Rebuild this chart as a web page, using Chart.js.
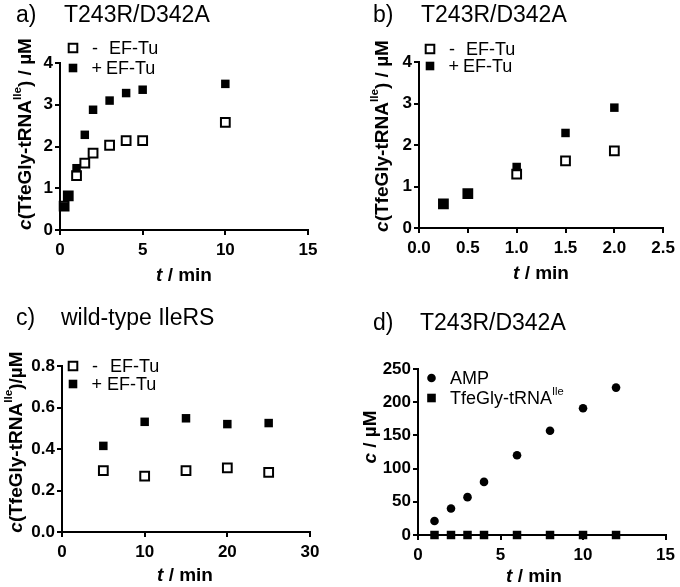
<!DOCTYPE html>
<html>
<head>
<meta charset="utf-8">
<script src="https://cdn.jsdelivr.net/npm/chart.js@4.4.1/dist/chart.umd.min.js"></script>
<style>
  html, body { margin: 0; padding: 0; background: #fff; }
  #wrap { position: relative; width: 680px; height: 587px; }
  canvas { position: absolute; }
</style>
</head>
<body>
<div id="wrap">
  <canvas id="pa" width="340" height="290" style="left:0;top:0"></canvas>
  <canvas id="pb" width="340" height="290" style="left:340px;top:0"></canvas>
  <canvas id="pc" width="340" height="297" style="left:0;top:290px"></canvas>
  <canvas id="pd" width="340" height="297" style="left:340px;top:290px"></canvas>
</div>
<script>
"use strict";
// a) T243R/D342A, full time course
const timeA = [0.25, 0.5, 1, 1.5, 2, 3, 4, 5, 10];
const mutNoTuA = [0.57, 0.82, 1.30, 1.60, 1.84, 2.03, 2.14, 2.14, 2.58];
const mutTuA = [0.56, 0.82, 1.48, 2.28, 2.88, 3.10, 3.28, 3.36, 3.50];

// b) T243R/D342A, first 2 min
const timeB = [0.25, 0.5, 1, 1.5, 2];
const mutNoTuB = [0.58, 0.83, 1.30, 1.62, 1.86];
const mutTuB = [0.58, 0.83, 1.47, 2.29, 2.90];

// c) wild-type IleRS
const timeC = [5, 10, 15, 20, 25];
const wtNoTu = [0.296, 0.269, 0.296, 0.309, 0.287];
const wtTu = [0.415, 0.531, 0.548, 0.52, 0.525];

// d) AMP vs TfeGly-tRNA
const timeD = [1, 2, 3, 4, 6, 8, 10, 12];
const ampD = [21, 40, 57, 80, 120, 157, 191, 222];
const tfeD = [0, 0, 0, 0, 0, 0, 0, 0];

const FONT = '"Liberation Sans", Arial, Helvetica, sans-serif';

function pts(xs, ys) {
    return xs.map((x, i) => ({ x: x, y: ys[i] }));
}

const openSq = { pointStyle: "rect", pointRadius: 6.2, pointBackgroundColor: "#fff", pointBorderColor: "#000", pointBorderWidth: 2, order: 1 };
const fillSq = { pointStyle: "rect", pointRadius: 6, pointBackgroundColor: "#000", pointBorderColor: "#000", pointBorderWidth: 0, order: 0 };
const fillDot = { pointStyle: "circle", pointRadius: 4.3, pointBackgroundColor: "#000", pointBorderColor: "#000", pointBorderWidth: 0, order: 0 };

function setFont(ctx, size, style) {
    const bold = style.indexOf("b") >= 0 ? "bold " : "";
    const ital = style.indexOf("i") >= 0 ? "italic " : "";
    ctx.font = ital + bold + size + "px " + FONT;
}

// runs: [text, style] ; style may contain b (bold), i (italic), s (superscript)
function runWidth(ctx, runs, size) {
    let w = 0;
    runs.forEach(r => {
        setFont(ctx, r[1].indexOf("s") >= 0 ? size * 0.62 : size, r[1]);
        w += ctx.measureText(r[0]).width;
    });
    return w;
}

function drawRuns(ctx, runs, x, y, size) {
    let cx = x;
    runs.forEach(r => {
        const sup = r[1].indexOf("s") >= 0;
        setFont(ctx, sup ? size * 0.62 : size, r[1]);
        ctx.fillText(r[0], cx, sup ? y - size * 0.42 : y);
        cx += ctx.measureText(r[0]).width;
    });
}

function marker(ctx, kind, x, y) {
    ctx.beginPath();
    if (kind === "open") {
        ctx.rect(x - 4.3, y - 4.3, 8.6, 8.6);
        ctx.fillStyle = "#fff";
        ctx.fill();
        ctx.lineWidth = 2;
        ctx.strokeStyle = "#000";
        ctx.stroke();
    } else if (kind === "fill") {
        ctx.rect(x - 4.3, y - 4.3, 8.6, 8.6);
        ctx.fillStyle = "#000";
        ctx.fill();
    } else {
        ctx.arc(x, y, 4.3, 0, Math.PI * 2);
        ctx.fillStyle = "#000";
        ctx.fill();
    }
    ctx.fillStyle = "#000";
}

const decor = {
    id: "decor",
    afterDraw(chart, args, o) {
        const ctx = chart.ctx;
        ctx.save();
        ctx.fillStyle = "#000";
        ctx.textAlign = "left";
        ctx.textBaseline = "alphabetic";
        // panel heading
        setFont(ctx, 23, "");
        ctx.fillText(o.letter, o.letterX, o.headY);
        ctx.fillText(o.head, o.headX, o.headY);
        // legend
        ctx.textBaseline = "middle";
        o.legend.forEach(it => {
            marker(ctx, it.kind, it.mx, it.y);
            it.parts.forEach(p => drawRuns(ctx, p.runs, p.x, it.y + 1, 18));
        });
        // x title
        ctx.textBaseline = "alphabetic";
        const xw = runWidth(ctx, o.xTitle, 19);
        drawRuns(ctx, o.xTitle, o.xTitleX - xw / 2, o.xTitleY, 19);
        // y title (rotated)
        ctx.translate(o.yTitleX, o.yTitleY);
        ctx.rotate(-Math.PI / 2);
        ctx.textBaseline = "middle";
        const yw = runWidth(ctx, o.yTitle, 19);
        drawRuns(ctx, o.yTitle, -yw / 2, 0, 19);
        ctx.restore();
    }
};

function axis(min, max, step, fmt, pad) {
    return {
        type: "linear",
        min: min,
        max: max,
        grid: { display: true, drawOnChartArea: false, drawTicks: true, tickLength: 5, color: "#000", lineWidth: 2 },
        border: { display: true, color: "#000", width: 2 },
        ticks: {
            stepSize: step,
            color: "#000",
            padding: pad,
            font: { family: FONT, size: 17, weight: "bold" },
            callback: v => fmt(v)
        }
    };
}

function makePanel(id, datasets, xs, ys, area, deco) {
    const c = document.getElementById(id);
    xs.afterFit = s => { s.height = c.height - area.bottom; };
    ys.afterFit = s => { s.width = area.left; };
    return new Chart(c.getContext("2d"), {
        type: "scatter",
        data: { datasets: datasets },
        options: {
            responsive: false,
            animation: false,
            events: [],
            layout: { padding: { left: 0, top: area.top, right: c.width - area.right, bottom: 0 } },
            scales: { x: xs, y: ys },
            plugins: { legend: { display: false }, tooltip: { enabled: false }, decor: deco }
        },
        plugins: [decor]
    });
}

const int = v => String(v);
const one = v => v.toFixed(1);

const tuTitle = [["c", "bi"], ["(TfeGly-tRNA", "b"], ["Ile", "bs"], [") / \u00b5M", "b"]];
const tuTitleC = [["c", "bi"], ["(TfeGly-tRNA", "b"], ["Ile", "bs"], [")/\u00b5M", "b"]];
const tTitle = [["t", "bi"], [" / min", "b"]];

function tuLegend(mx, y1, y2, minusX, t1X, plusX, t2X) {
    return [
        { kind: "open", mx: mx, y: y1, parts: [{ x: minusX, runs: [["-", ""]] }, { x: t1X, runs: [["EF-Tu", ""]] }] },
        { kind: "fill", mx: mx, y: y2, parts: [{ x: plusX, runs: [["+", ""]] }, { x: t2X, runs: [["EF-Tu", ""]] }] }
    ];
}

makePanel("pa",
    [
        Object.assign({ label: "+ EF-Tu", data: pts(timeA, mutTuA), clip: false }, fillSq),
        Object.assign({ label: "- EF-Tu", data: pts(timeA, mutNoTuA), clip: false }, openSq)
    ],
    axis(0, 15, 5, int, 5), axis(0, 4, 1, int, 2),
    { left: 60, right: 308, top: 63, bottom: 230 },
    {
        letter: "a)", letterX: 16, head: "T243R/D342A", headX: 64, headY: 22,
        legend: tuLegend(73, 48, 68, 92, 109, 91.5, 106),
        xTitle: tTitle, xTitleX: 184, xTitleY: 281,
        yTitle: tuTitle, yTitleX: 26, yTitleY: 134
    });

makePanel("pb",
    [
        Object.assign({ label: "+ EF-Tu", data: pts(timeB, mutTuB), clip: false }, fillSq),
        Object.assign({ label: "- EF-Tu", data: pts(timeB, mutNoTuB), clip: false }, openSq)
    ],
    axis(0, 2.5, 0.5, one, 5), axis(0, 4, 1, int, 2),
    { left: 79, right: 325, top: 62, bottom: 228 },
    {
        letter: "b)", letterX: 33, head: "T243R/D342A", headX: 81, headY: 22,
        legend: tuLegend(90, 49, 66, 109, 126, 108.5, 123),
        xTitle: tTitle, xTitleX: 201, xTitleY: 279,
        yTitle: tuTitle, yTitleX: 43, yTitleY: 136
    });

makePanel("pc",
    [
        Object.assign({ label: "+ EF-Tu", data: pts(timeC, wtTu), clip: false }, fillSq),
        Object.assign({ label: "- EF-Tu", data: pts(timeC, wtNoTu), clip: false }, openSq)
    ],
    axis(0, 30, 10, int, 5), axis(0, 0.8, 0.2, one, 2),
    { left: 62, right: 310, top: 76, bottom: 242 },
    {
        letter: "c)", letterX: 16, head: "wild-type IleRS", headX: 61, headY: 35,
        legend: tuLegend(73, 76, 94, 92, 110, 91.5, 107),
        xTitle: tTitle, xTitleX: 185, xTitleY: 291,
        yTitle: tuTitleC, yTitleX: 17, yTitleY: 152
    });

makePanel("pd",
    [
        Object.assign({ label: "AMP", data: pts(timeD, ampD), clip: false }, fillDot),
        Object.assign({ label: "TfeGly-tRNA", data: pts(timeD, tfeD), clip: false }, fillSq)
    ],
    axis(0, 15, 5, int, 5), axis(0, 250, 50, int, 2),
    { left: 78, right: 328, top: 79, bottom: 245 },
    {
        letter: "d)", letterX: 33, head: "T243R/D342A", headX: 80, headY: 40,
        legend: [
            { kind: "dot", mx: 91.5, y: 88, parts: [{ x: 110, runs: [["AMP", ""]] }] },
            { kind: "fill", mx: 91.5, y: 108, parts: [{ x: 110, runs: [["TfeGly-tRNA", ""], ["Ile", "s"]] }] }
        ],
        xTitle: tTitle, xTitleX: 194, xTitleY: 292,
        yTitle: [["c", "bi"], [" / \u00b5M", "b"]], yTitleX: 31, yTitleY: 147
    });
</script>
</body>
</html>
